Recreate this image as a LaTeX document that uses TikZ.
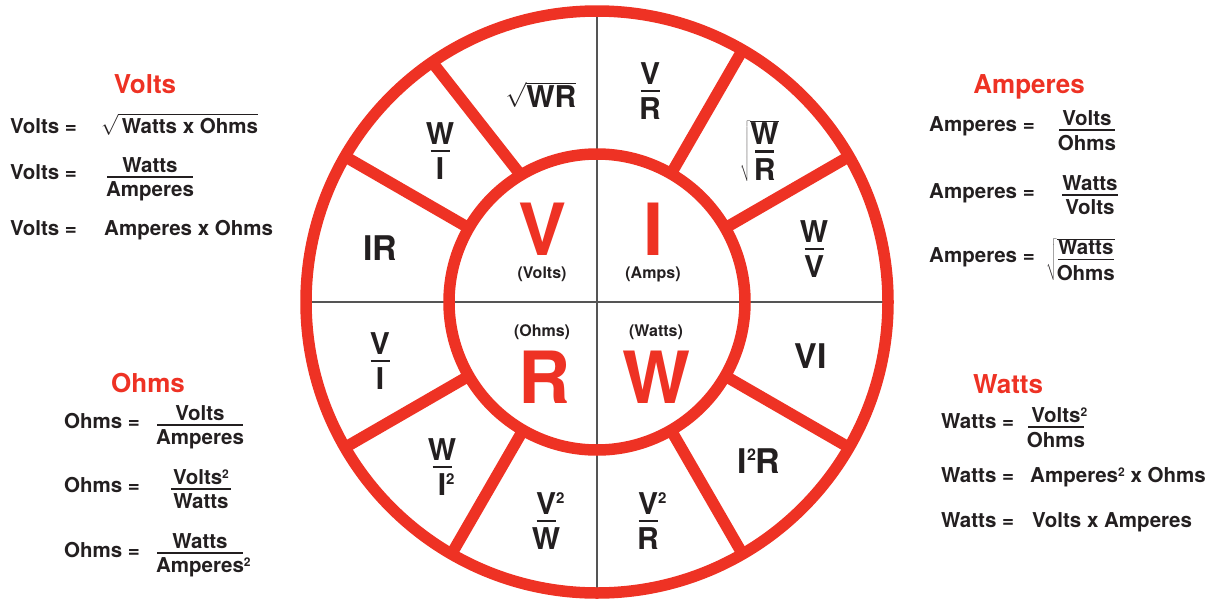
\documentclass[tikz,border=0pt]{standalone}
\usepackage{fontspec}
\setmainfont{TeX Gyre Heros}
\definecolor{ohmred}{RGB}{238,50,36}
\definecolor{ink}{RGB}{35,31,32}
\definecolor{axisgray}{RGB}{85,85,85}
% ring fraction: numerator, thick bar, denominator
\newcommand{\rfr}[2]{\vbox{\offinterlineskip\halign{\hfil##\hfil\cr #1\cr\noalign{\vskip5.5pt}\rule{19pt}{2.8pt}\cr\noalign{\vskip5pt}#2\cr}}}
% body fraction: bar width, numerator, denominator
\newcommand{\efr}[3]{\vbox{\offinterlineskip\halign{\hfil##\hfil\cr #2\cr\noalign{\vskip4pt}\rule{#1}{1.2pt}\cr\noalign{\vskip4.5pt}#3\cr}}}
\newcommand{\sqa}{\rlap{\raisebox{11pt}{\fontsize{15}{15}\selectfont 2}}}
\newcommand{\sqb}{\raisebox{6pt}{\fontsize{12}{12}\selectfont 2}}
\tikzset{
  ringline/.style={draw=ohmred, line width=11.5pt},
  axisline/.style={draw=axisgray, line width=1.2pt},
  hdtext/.style={inner sep=0pt, text=ohmred, font=\fontsize{26}{28}\selectfont\bfseries},
  bodytext/.style={inner sep=0pt, text=ink, font=\fontsize{20.5}{22}\selectfont\bfseries},
  ringtext/.style={inner sep=0pt, text=ink, font=\fontsize{34}{36}\selectfont\bfseries},
  ringfrac/.style={inner sep=0pt, text=ink, font=\fontsize{30}{32}\selectfont\bfseries},
  bigletter/.style={inner sep=0pt, text=ohmred, font=\fontsize{72}{72}\selectfont\bfseries},
  smalltext/.style={inner sep=0pt, text=ink, font=\fontsize{16}{18}\selectfont\bfseries},
}
\begin{document}
\begin{tikzpicture}[x=1pt,y=-1pt]
\useasboundingbox (0,0) rectangle (1224,603);
\coordinate (c) at (597,302);
% thin axes
\coordinate (axT) at (597,11);
\coordinate (axB) at (597,593);
\coordinate (axL) at (306,302);
\coordinate (axR) at (888,302);
\draw[axisline] (axT) -- (axB);
\draw[axisline] (axL) -- (axR);
% rings
\draw[ringline] (c) circle[radius=291pt];
\draw[ringline] (c) circle[radius=148pt];
% spokes
\foreach \a in {30,60,150,210,240,300,330}{
  \coordinate (in\a) at ([shift={(c)}]-\a:148);
  \coordinate (out\a) at ([shift={(c)}]-\a:291);
  \draw[ringline] (in\a) -- (out\a);
}
\coordinate (inA) at ([shift={(c)}]-121:148);
\coordinate (outA) at ([shift={(c)}]-124.5:291);
\draw[ringline] (inA) -- (outA);
% centre letters
\node[bigletter, anchor=base] (cV) at (543,255) {V};
\node[bigletter, anchor=base] (cI) at (654,255) {I};
\node[bigletter, anchor=base] (cR) at (544,403) {R};
\node[bigletter, anchor=base] (cW) at (656,403) {W};
\node[smalltext] (lV) at (542,274) {(Volts)};
\node[smalltext] (lI) at (653,274) {(Amps)};
\node[smalltext] (lR) at (542,332) {(Ohms)};
\node[smalltext] (lW) at (656,332) {(Watts)};
% ring labels
\node[ringtext, anchor=base] (rIR) at (380,260) {IR};
\node[ringtext, anchor=base] (rVI) at (811,368) {VI};
\node[ringtext, anchor=base] (rI2R) at (759,473) {I\raisebox{13pt}{\fontsize{16}{16}\selectfont 2}R};
\node[ringfrac, anchor=base] (rSWR) at (541,107) {$\sqrt{\hbox{WR}}$};
\node[ringfrac, anchor=north] (rVR) at (650,62) {\rfr{V}{R}};
\node[ringfrac, anchor=north] (rWI) at (440,122) {\rfr{W}{I}};
\node[ringfrac, anchor=north] (rWV) at (814,220) {\rfr{W}{V}};
\node[ringfrac, anchor=north] (rVbI) at (380,332) {\rfr{V}{I}};
\node[ringfrac, anchor=north] (rWI2) at (442,438) {\rfr{W}{I\sqa}};
\node[ringfrac, anchor=north] (rV2W) at (546,492) {\rfr{V\sqa}{W}};
\node[ringfrac, anchor=north] (rV2R) at (648,492) {\rfr{V\sqa}{R}};
\node[ringfrac, anchor=base east] (rSWbR) at (779,180) {$\sqrt{\rfr{W}{R}}$};
% Volts
\node[hdtext, anchor=base] (hV) at (145,93) {Volts};
\node[bodytext, anchor=base west] (v1) at (10,133) {Volts =};
\node[bodytext, anchor=base west] (v1r) at (101,133) {$\sqrt{\hbox{\,Watts x Ohms}}$};
\node[bodytext, anchor=base west] (v2) at (10,179) {Volts =};
\node[bodytext, anchor=north] (v2r) at (150,157) {\efr{86pt}{Watts}{Amperes}};
\node[bodytext, anchor=base west] (v3) at (10,235) {Volts =};
\node[bodytext, anchor=base west] (v3r) at (104,235) {Amperes x Ohms};
% Amperes
\node[hdtext, anchor=base] (hA) at (1029,93) {Amperes};
\node[bodytext, anchor=base west] (a1) at (929,131) {Amperes =};
\node[bodytext, anchor=north] (a1r) at (1087,110) {\efr{56pt}{Volts}{Ohms}};
\node[bodytext, anchor=base west] (a2) at (929,198) {Amperes =};
\node[bodytext, anchor=north] (a2r) at (1090,175) {\efr{56pt}{Watts}{Volts}};
\node[bodytext, anchor=base west] (a3) at (929,262) {Amperes =};
\node[bodytext, anchor=base west] (a3r) at (1046,280) {$\sqrt{\efr{56pt}{Watts}{Ohms}}$};
% Ohms
\node[hdtext, anchor=base] (hO) at (148,392) {Ohms};
\node[bodytext, anchor=base west] (o1) at (64,428) {Ohms =};
\node[bodytext, anchor=north] (o1r) at (200,405) {\efr{86pt}{Volts}{Amperes}};
\node[bodytext, anchor=base west] (o2) at (64,492) {Ohms =};
\node[bodytext, anchor=north] (o2r) at (201,469) {\efr{60pt}{Volts\sqb}{Watts}};
\node[bodytext, anchor=base west] (o3) at (64,557) {Ohms =};
\node[bodytext, anchor=north] (o3r) at (200,533) {\efr{86pt}{Watts}{Amperes\rlap{\sqb}}};
% Watts
\node[hdtext, anchor=base] (hW) at (1008,393) {Watts};
\node[bodytext, anchor=base west] (w1) at (941,428) {Watts =};
\node[bodytext, anchor=north] (w1r) at (1056,407) {\efr{56pt}{Volts\rlap{\sqb}}{Ohms}};
\node[bodytext, anchor=base west] (w2) at (941,482) {Watts =};
\node[bodytext, anchor=base west] (w2r) at (1030,482) {Amperes\sqb{} x Ohms};
\node[bodytext, anchor=base west] (w3) at (941,527) {Watts =};
\node[bodytext, anchor=base west] (w3r) at (1032,527) {Volts x Amperes};
\end{tikzpicture}
\end{document}
